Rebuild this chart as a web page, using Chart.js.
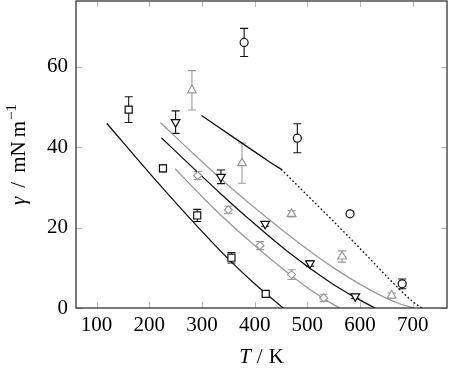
<!DOCTYPE html>
<html>
<head>
<meta charset="utf-8">
<script src="https://cdn.jsdelivr.net/npm/chart.js@4.4.1/dist/chart.umd.min.js"></script>
<style>
  html, body { margin: 0; padding: 0; background: #fff; }
  #wrap { width: 449px; height: 376px; }
</style>
</head>
<body>
<div id="wrap"><canvas id="chart"></canvas></div>
<script>
// tick labels
const xTicks = [100, 200, 300, 400, 500, 600, 700];
const yTicks = [0, 20, 40, 60];

// measured surface tensions: T (K), gamma (mN/m), error (+/-)
const sqT = [161, 226, 291, 356, 421];
const sqGamma = [49.3, 34.7, 23.0, 12.5, 3.5];
const sqErr = [3.2, 0.8, 1.5, 1.3, 0.4];

const dnT = [250, 336, 420, 505, 591];
const dnGamma = [46.2, 32.6, 20.9, 11.1, 2.9];
const dnErr = [2.8, 1.7, 0.6, 0.7, 0.5];

const upT = [281, 376, 470, 566, 660];
const upGamma = [54.1, 36.0, 23.4, 12.8, 3.1];
const upErr = [4.9, 5.0, 0.8, 1.4, 0.6];

const dmT = [292, 350, 410, 470, 531];
const dmGamma = [32.9, 24.4, 15.5, 8.3, 2.5];
const dmErr = [1.0, 0.9, 1.0, 1.2, 0.9];

const ciT = [380, 481, 581, 680];
const ciGamma = [66.0, 42.2, 23.4, 6.0];
const ciErr = [3.5, 3.6, 0, 1.2];

// fitted curves
const fit1T = [120, 200, 296, 350, 400, 454];
const fit1G = [45.8, 33.6, 19.6, 12.2, 6.0, 0];

const fit2T = [224, 280, 334, 391, 460, 543, 587, 628];
const fit2G = [42.2, 35.2, 28.6, 21.9, 14.3, 6.4, 2.9, 0];

const fit3T = [250, 292, 334, 410, 486, 530, 561];
const fit3G = [34.5, 28.8, 23.3, 14.4, 6.4, 2.4, 0];

const fit4T = [222, 280, 334, 391, 460, 543, 619, 670, 702];
const fit4G = [46.0, 38.8, 32.3, 25.9, 18.6, 10.6, 4.5, 1.3, 0];

const fit5T = [300, 360, 423, 451];
const fit5G = [47.8, 42.4, 36.8, 34.4];
const extrapT = [451, 500, 543, 580, 619, 669, 700, 717];
const extrapG = [34.4, 28.0, 22.4, 17.5, 12.2, 5.4, 1.6, 0];

// axis titles, split into pieces: [text, italic?, gap after]
const xTitle = [['T', true, 6], ['/', false, 6], ['K', false, 0]];
const yTitle = [['γ', true, 9], ['/', false, 9], ['mN', false, 4], ['m', false, 0]];
const yTitleSup = '−1';

const BLACK = '#111';
const GRAY = '#9a9a9a';
const FONT = "'Liberation Serif', 'DejaVu Serif', serif";

const pts = (xs, ys) => xs.map((x, i) => ({ x: x, y: ys[i] }));

function markers(xs, ys, errs, color, style, radius, rotation) {
    return {
        data: pts(xs, ys),
        errorBars: errs,
        showLine: false,
        pointStyle: style,
        pointRadius: radius,
        pointRotation: rotation || 0,
        pointBackgroundColor: '#fff',
        pointBorderColor: color,
        borderColor: color,
        pointBorderWidth: 1.2,
        clip: false,
        order: 0,
    };
}

function curve(xs, ys, color, dash) {
    return {
        data: pts(xs, ys),
        showLine: true,
        borderColor: color,
        borderWidth: dash ? 1.4 : 1.3,
        borderDash: dash || [],
        borderCapStyle: 'round',
        pointRadius: 0,
        cubicInterpolationMode: 'monotone',
        order: 1,
    };
}

// vertical error bars, drawn under the hollow markers
const errorBars = {
    id: 'errorBars',
    beforeDatasetsDraw(chart) {
        const ctx = chart.ctx;
        const ys = chart.scales.y;
        chart.data.datasets.forEach((ds, i) => {
            if (!ds.errorBars) return;
            const meta = chart.getDatasetMeta(i);
            ctx.save();
            ctx.strokeStyle = ds.borderColor;
            ctx.lineWidth = 1.1;
            meta.data.forEach((p, j) => {
                const e = ds.errorBars[j];
                if (!e) return;
                const v = ds.data[j].y;
                const top = ys.getPixelForValue(v + e);
                const bot = ys.getPixelForValue(v - e);
                ctx.beginPath();
                ctx.moveTo(p.x, top); ctx.lineTo(p.x, bot);
                ctx.moveTo(p.x - 4, top); ctx.lineTo(p.x + 4, top);
                ctx.moveTo(p.x - 4, bot); ctx.lineTo(p.x + 4, bot);
                ctx.stroke();
            });
            ctx.restore();
        });
    }
};

function pieceWidths(ctx, pieces, size) {
    return pieces.map(p => {
        ctx.font = (p[1] ? 'italic ' : '') + size + 'px ' + FONT;
        return ctx.measureText(p[0]).width + p[2];
    });
}

// pgfplots style box: inward ticks on all sides + frame + axis titles
const frame = {
    id: 'frame',
    beforeDatasetsDraw(chart) {
        const { ctx, chartArea: a, scales } = chart;
        const len = 6;
        ctx.save();
        ctx.strokeStyle = '#b8b8b8';
        ctx.lineWidth = 1;
        ctx.beginPath();
        xTicks.forEach(t => {
            const x = Math.round(scales.x.getPixelForValue(t)) + 0.5;
            ctx.moveTo(x, a.bottom); ctx.lineTo(x, a.bottom - len);
            ctx.moveTo(x, a.top); ctx.lineTo(x, a.top + len);
        });
        yTicks.forEach(t => {
            const y = Math.round(scales.y.getPixelForValue(t)) + 0.5;
            ctx.moveTo(a.left, y); ctx.lineTo(a.left + len, y);
            ctx.moveTo(a.right, y); ctx.lineTo(a.right - len, y);
        });
        ctx.stroke();
        ctx.restore();
    },
    afterDatasetsDraw(chart) {
        const { ctx, chartArea: a } = chart;
        ctx.save();
        ctx.strokeStyle = '#222';
        ctx.lineWidth = 1.2;
        ctx.strokeRect(a.left, a.top, a.right - a.left, a.bottom - a.top);
        ctx.restore();
    },
    afterDraw(chart) {
        const { ctx, chartArea: a } = chart;
        ctx.save();
        ctx.fillStyle = '#000';
        ctx.textBaseline = 'alphabetic';
        ctx.textAlign = 'left';

        // x title
        let ws = pieceWidths(ctx, xTitle, 21);
        let x0 = (a.left + a.right) / 2 - ws.reduce((s, w) => s + w, 0) / 2;
        xTitle.forEach((p, i) => {
            ctx.font = (p[1] ? 'italic ' : '') + '21px ' + FONT;
            ctx.fillText(p[0], x0, 363);
            x0 += ws[i];
        });

        // y title, rotated
        ctx.translate(25, (a.top + a.bottom) / 2);
        ctx.rotate(-Math.PI / 2);
        ws = pieceWidths(ctx, yTitle, 21);
        ctx.font = '15px ' + FONT;
        const ws2 = ctx.measureText(yTitleSup).width + 1;
        x0 = -(ws.reduce((s, w) => s + w, 0) + ws2) / 2;
        yTitle.forEach((p, i) => {
            ctx.font = (p[1] ? 'italic ' : '') + '21px ' + FONT;
            ctx.fillText(p[0], x0, 0);
            x0 += ws[i];
        });
        ctx.font = '15px ' + FONT;
        ctx.fillText(yTitleSup, x0 + 1, -9);
        ctx.restore();
    }
};

new Chart(document.getElementById('chart'), {
    type: 'scatter',
    data: {
        datasets: [
            curve(fit1T, fit1G, BLACK),
            curve(fit2T, fit2G, BLACK),
            curve(fit3T, fit3G, GRAY),
            curve(fit4T, fit4G, GRAY),
            curve(fit5T, fit5G, BLACK),
            curve(extrapT, extrapG, BLACK, [0.5, 3.5]),
            markers(sqT, sqGamma, sqErr, BLACK, 'rect', 5),
            markers(dnT, dnGamma, dnErr, BLACK, 'triangle', 5, 180),
            markers(upT, upGamma, upErr, GRAY, 'triangle', 5),
            markers(dmT, dmGamma, dmErr, GRAY, 'rectRot', 4),
            markers(ciT, ciGamma, ciErr, BLACK, 'circle', 4),
        ]
    },
    options: {
        responsive: true,
        maintainAspectRatio: false,
        animation: false,
        layout: { autoPadding: false, padding: { top: 1, right: 2, left: 0, bottom: 0 } },
        plugins: { legend: { display: false }, tooltip: { enabled: false } },
        scales: {
            x: {
                type: 'linear',
                min: 61,
                max: 765,
                afterFit: s => { s.height = 68; s.paddingLeft = 0; s.paddingRight = 0; },
                afterBuildTicks: s => { s.ticks = xTicks.map(v => ({ value: v })); },
                grid: { display: false, drawTicks: false },
                border: { display: false },
                ticks: { color: '#000', padding: 5, maxRotation: 0, font: { family: FONT, size: 21 } }
            },
            y: {
                type: 'linear',
                min: 0,
                max: 76.3,
                afterFit: s => { s.width = 76; s.paddingTop = 0; s.paddingBottom = 0; },
                afterBuildTicks: s => { s.ticks = yTicks.map(v => ({ value: v })); },
                grid: { display: false, drawTicks: false },
                border: { display: false },
                ticks: { color: '#000', padding: 8, font: { family: FONT, size: 21 } }
            }
        }
    },
    plugins: [errorBars, frame]
});
</script>
</body>
</html>
